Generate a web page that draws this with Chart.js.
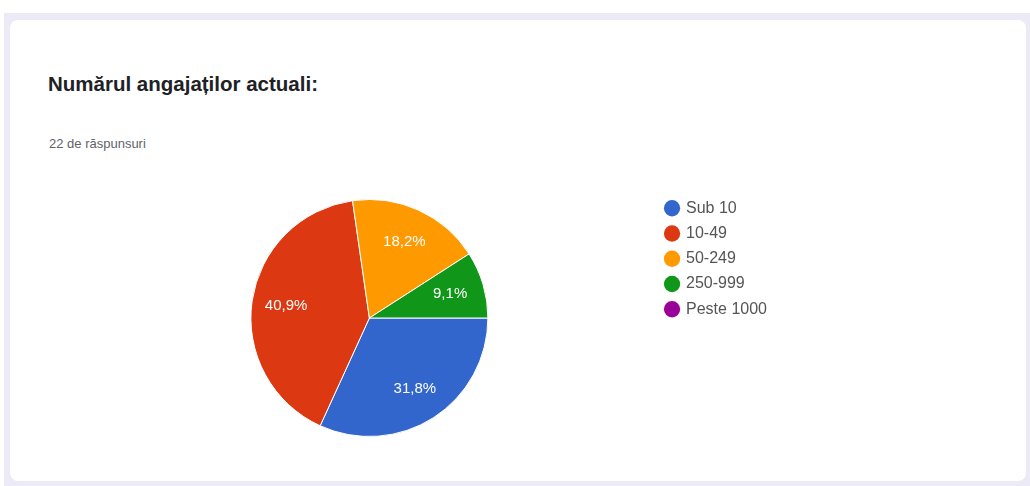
<!DOCTYPE html>
<html>
<head>
<meta charset="utf-8">
<script src="https://cdn.jsdelivr.net/npm/chart.js@4"></script>
<style>
  body { margin: 0; background: #fff; width: 1030px; height: 486px; overflow: hidden; position: relative; font-family: "Liberation Sans", Arial, sans-serif; }
  .frame { position: absolute; left: 4px; top: 13px; right: 0; bottom: 0; background: #ecEAF6; }
  .card { position: absolute; left: 10px; top: 20px; width: 1016px; height: 461px; background: #fff; border-radius: 8px; }
  .title { position: absolute; left: 48px; top: 74px; font-size: 20.5px; line-height: 20px; font-weight: bold; color: #202124; white-space: nowrap; }
  .sub { position: absolute; left: 49px; top: 137px; font-size: 13px; line-height: 13px; color: #5f6368; white-space: nowrap; }
  .box { position: absolute; left: 82px; top: 191px; width: 760px; height: 254px; }
</style>
</head>
<body>
<div class="frame"></div>
<div class="card"></div>
<div class="title">Numărul angajaților actuali:</div>
<div class="sub">22 de răspunsuri</div>
<div class="box"><canvas id="myChart"></canvas></div>
<script>
const categories = ['Sub 10', '10-49', '50-249', '250-999', 'Peste 1000'];
const responses = [7, 9, 4, 2, 0];
const sliceColors = ['#3366cc', '#dc3912', '#ff9900', '#109618', '#990099'];

const total = responses.reduce((a, b) => a + b, 0);

// procentele scrise pe felii
const sliceLabels = {
    id: 'sliceLabels',
    afterDatasetsDraw(chart) {
        const ctx = chart.ctx;
        const meta = chart.getDatasetMeta(0);
        ctx.save();
        ctx.font = '15px "Liberation Sans", Arial, sans-serif';
        ctx.fillStyle = '#fff';
        ctx.textAlign = 'center';
        ctx.textBaseline = 'middle';
        meta.data.forEach((arc, i) => {
            const v = responses[i];
            if (!v) return;
            const p = arc.getProps(['x', 'y', 'startAngle', 'endAngle', 'outerRadius'], true);
            const a = (p.startAngle + p.endAngle) / 2;
            const r = p.outerRadius * 0.71;
            const txt = (v / total * 100).toFixed(1).replace('.', ',') + '%';
            ctx.fillText(txt, p.x + Math.cos(a) * r, p.y + Math.sin(a) * r);
        });
        ctx.restore();
    }
};

const defaultLabels = Chart.overrides.pie.plugins.legend.labels.generateLabels;

new Chart(document.getElementById('myChart'), {
    type: 'pie',
    data: {
        labels: categories,
        datasets: [{
            data: responses,
            backgroundColor: sliceColors,
            borderColor: '#fff',
            borderWidth: 1,
            radius: 118.5,
        }],
    },
    options: {
        responsive: true,
        maintainAspectRatio: false,
        animation: false,
        events: [],
        rotation: 90,
        layout: { padding: { right: 65 } },
        plugins: {
            tooltip: { enabled: false },
            legend: {
                position: 'right',
                align: 'start',
                labels: {
                    usePointStyle: true,
                    pointStyle: 'circle',
                    boxWidth: 12,
                    boxHeight: 11.5,
                    padding: 9.25,
                    color: '#555',
                    font: { size: 16, family: '"Liberation Sans", Arial, sans-serif' },
                    generateLabels(chart) {
                        return defaultLabels(chart).map(l => ({ ...l, lineWidth: 0, hidden: false }));
                    },
                },
            },
        },
    },
    plugins: [sliceLabels],
});
</script>
</body>
</html>
